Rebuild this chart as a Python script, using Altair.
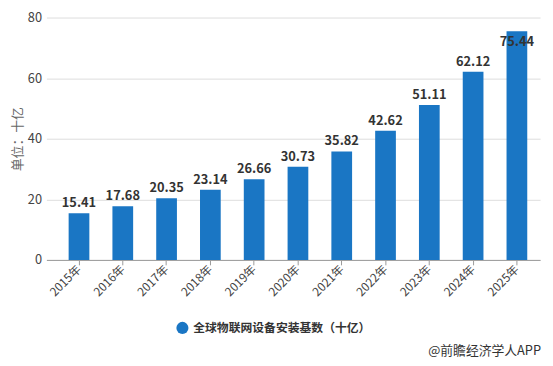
import altair as alt
import pandas as pd

years = ["2015年", "2016年", "2017年", "2018年", "2019年", "2020年",
         "2021年", "2022年", "2023年", "2024年", "2025年"]
values = [15.41, 17.68, 20.35, 23.14, 26.66, 30.73, 35.82, 42.62, 51.11, 62.12, 75.44]
series_name = "全球物联网设备安装基数（十亿）"
y_title = "单位：十亿"
source = "@前瞻经济学人APP"

FONT = "Noto Sans CJK SC"
BLUE = "#1a76c4"

df = pd.DataFrame({"year": years, "value": values, "series": [series_name] * len(years)})

x_enc = alt.X("year:N", sort=years,
              scale=alt.Scale(paddingInner=0.527, paddingOuter=0.4, align=0.634),
              axis=alt.Axis(title=None, labelAngle=-45, labelAlign="right", labelBaseline="middle",
                            labelFontSize=12, labelColor="#444", labelFont=FONT,
                            domainColor="#999", tickColor="#999", tickSize=5,
                            labelPadding=2, grid=False))

bars = alt.Chart(df).mark_bar(color=BLUE).encode(
    x=x_enc,
    y=alt.Y("value:Q", scale=alt.Scale(domain=[0, 80]),
            axis=alt.Axis(title=y_title, values=[0, 20, 40, 60, 80], titleFont=FONT,
                          titleFontSize=13, titleFontWeight="normal", titleColor="#666",
                          titlePadding=3, labelFont=FONT, labelFontSize=13, labelColor="#444",
                          labelPadding=5, domain=False, ticks=False, gridColor="#dcdcdc")),
    color=alt.Color("series:N", scale=alt.Scale(range=[BLUE]),
                    legend=alt.Legend(title=None, orient="none", legendX=131, legendY=308,
                                      symbolType="circle", symbolSize=150, labelLimit=400,
                                      labelFont=FONT, labelFontSize=12, labelColor="#333",
                                      labelFontWeight="bold"))
)

labels = alt.Chart(df).transform_calculate(
    lpos="min(datum.value, 68.5)"
).mark_text(font=FONT, fontSize=13, fontWeight="bold", color="#333", dy=-10,
            baseline="middle").encode(
    x=alt.X("year:N", sort=years),
    y=alt.Y("lpos:Q"),
    text=alt.Text("value:Q", format=".2f")
)

src = alt.Chart(pd.DataFrame({"t": [source]})).mark_text(
    font=FONT, fontSize=13, color="#333", align="right", baseline="middle"
).encode(x=alt.value(502), y=alt.value(338), text="t:N")

chart = alt.layer(bars, labels, src).properties(
    width=501, height=246,
    autosize=alt.AutoSizeParams(type="none"),
    padding={"left": 39, "top": 7, "right": 5, "bottom": 105},
    background="white"
).configure_view(stroke=None)

chart.save("out.html", embed_options={"renderer": "svg", "actions": False})
